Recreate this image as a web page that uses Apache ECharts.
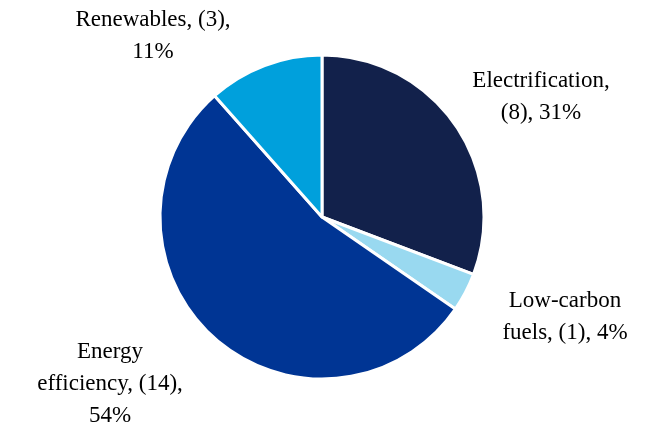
<!DOCTYPE html>
<html>
<head>
<meta charset="utf-8">
<script src="https://cdn.jsdelivr.net/npm/echarts@6/dist/echarts.min.js"></script>
<style>
  html, body { margin: 0; padding: 0; background: #fff; }
  #chart { width: 648px; height: 431px; }
</style>
</head>
<body>
<div id="chart"></div>
<script>
// 数据
var categories = ['Electrification', 'Low-carbon fuels', 'Energy efficiency', 'Renewables']
var counts = [8, 1, 14, 3]
var shares = [31, 4, 54, 11]
var labelTexts = [
  'Electrification,\n(8), 31%',
  'Low-carbon\nfuels, (1), 4%',
  'Energy\nefficiency, (14),\n54%',
  'Renewables, (3),\n11%'
]

var colors = ['#12214b', '#99d9f0', '#003594', '#00a0dc']
// 标签中心位置
var labelPos = [[541, 97], [565, 317], [110, 384], [153, 36]]

var chart = echarts.init(document.getElementById('chart'))

var option = {
  backgroundColor: '#ffffff',
  animation: false,
  series: [{
    type: 'pie',
    center: [322, 217],
    radius: 162,
    startAngle: 90,
    clockwise: true,
    color: colors,
    itemStyle: {
      borderColor: '#ffffff',
      borderWidth: 3
    },
    label: {
      show: true,
      position: 'inside',
      overflow: 'none',
      fontFamily: 'Liberation Serif',
      fontSize: 23,
      lineHeight: 32,
      color: '#000000',
      align: 'center',
      formatter: function (p) { return labelTexts[p.dataIndex] }
    },
    labelLine: { show: false },
    labelLayout: function (p) {
      var pos = labelPos[p.dataIndex]
      return {
        x: pos[0],
        y: pos[1],
        align: 'center',
        verticalAlign: 'middle'
      }
    },
    data: categories.map(function (c, i) {
      return { name: c, value: counts[i] }
    })
  }]
}
chart.setOption(option)
</script>
</body>
</html>
